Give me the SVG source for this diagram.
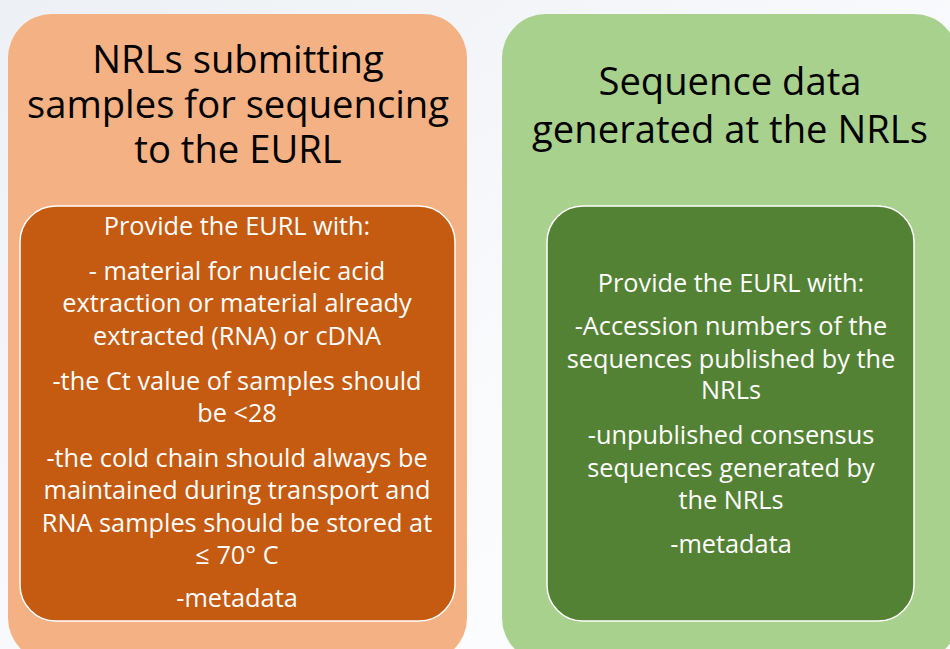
<svg xmlns="http://www.w3.org/2000/svg" width="950" height="649" viewBox="0 0 950 649">
  <defs>
    <linearGradient id="bg" x1="0" y1="0" x2="1" y2="1">
      <stop offset="0" stop-color="#EDF0F4"/>
      <stop offset="0.6" stop-color="#FAFBFD"/>
      <stop offset="1" stop-color="#FFFFFF"/>
    </linearGradient>
    <style>
      .title { font-family: "Open Sans", Lato, sans-serif; font-size: 38.2px; fill: #000000; text-anchor: middle; }
      .body { font-family: "Open Sans", Lato, sans-serif; font-size: 25.3px; fill: #FFFFFF; text-anchor: middle; }
      .inner { stroke: #FFFFFF; stroke-width: 1.5; }
    </style>
  </defs>

  <rect x="0" y="0" width="950" height="649" fill="url(#bg)"/>

  <!-- Left column: samples sent for sequencing -->
  <g id="nrl-samples">
    <rect x="8" y="14" width="459" height="648" rx="44" fill="#F4B183"/>
    <text class="title"><tspan x="238" y="73">NRLs submitting</tspan><tspan x="238" y="118">samples for sequencing</tspan><tspan x="238" y="163">to the EURL</tspan></text>
    <g id="nrl-samples-list">
      <rect class="inner" x="20" y="206" width="435" height="415" rx="36" fill="#C55A11"/>
      <text class="body" x="237" y="235">Provide the EURL with:</text>
      <text class="body"><tspan x="237" y="280">- material for nucleic acid</tspan><tspan x="237" y="312">extraction or material already</tspan><tspan x="237" y="345">extracted (RNA) or cDNA</tspan></text>
      <text class="body"><tspan x="237" y="390">-the Ct value of samples should</tspan><tspan x="237" y="422">be &lt;28</tspan></text>
      <text class="body"><tspan x="237" y="467">-the cold chain should always be</tspan><tspan x="237" y="499">maintained during transport and</tspan><tspan x="237" y="532">RNA samples should be stored at</tspan><tspan x="237" y="564">≤ 70° C</tspan></text>
      <text class="body" x="237" y="607">-metadata</text>
    </g>
  </g>

  <!-- Right column: sequence data from the NRLs -->
  <g id="nrl-sequences">
    <rect x="502" y="14" width="456" height="648" rx="44" fill="#A9D18E"/>
    <text class="title"><tspan x="730" y="95">Sequence data</tspan><tspan x="730" y="143">generated at the NRLs</tspan></text>
    <g id="nrl-sequences-list">
      <rect class="inner" x="547" y="206" width="367" height="415" rx="36" fill="#548235"/>
      <text class="body" x="731" y="292">Provide the EURL with:</text>
      <text class="body"><tspan x="731" y="335">-Accession numbers of the</tspan><tspan x="731" y="368">sequences published by the</tspan><tspan x="731" y="399">NRLs</tspan></text>
      <text class="body"><tspan x="731" y="444">-unpublished consensus</tspan><tspan x="731" y="477">sequences generated by</tspan><tspan x="731" y="509">the NRLs</tspan></text>
      <text class="body" x="731" y="553">-metadata</text>
    </g>
  </g>

  <g id="connectors"/>
</svg>
